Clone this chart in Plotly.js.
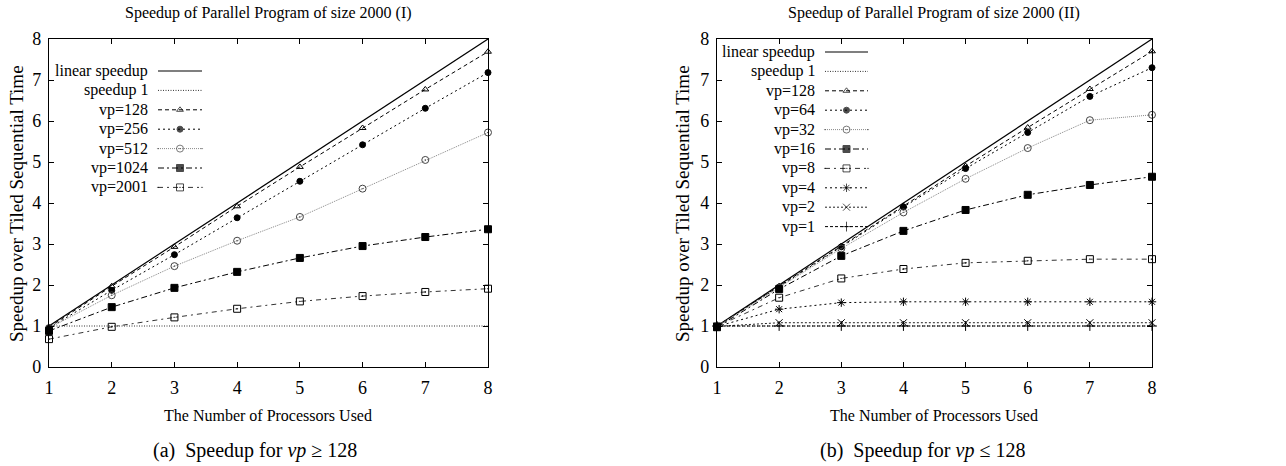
<!DOCTYPE html>
<html><head><meta charset="utf-8">
<script src="https://cdn.plot.ly/plotly-3.0.1.min.js"></script>
<style>html,body{margin:0;padding:0;background:#fff}#plot{width:1286px;height:466px}</style>
</head><body><div id="plot"></div>
<script>
// ---------- data ----------
const procs = [1, 2, 3, 4, 5, 6, 7, 8];
const linearSpeedup = [1, 2, 3, 4, 5, 6, 7, 8];
const speedupOne = [1, 1, 1, 1, 1, 1, 1, 1];

// Panel (a): vp >= 128
const a_vp128  = [0.97, 1.97, 2.93, 3.92, 4.88, 5.83, 6.77, 7.69];
const a_vp256  = [0.95, 1.87, 2.74, 3.64, 4.53, 5.42, 6.31, 7.18];
const a_vp512  = [0.95, 1.75, 2.46, 3.08, 3.66, 4.35, 5.05, 5.72];
const a_vp1024 = [0.88, 1.46, 1.93, 2.32, 2.66, 2.95, 3.17, 3.36];
const a_vp2001 = [0.68, 0.98, 1.21, 1.42, 1.60, 1.73, 1.83, 1.91];

// Panel (b): vp <= 128
const b_vp128 = [1.00, 1.97, 2.95, 3.93, 4.90, 5.84, 6.78, 7.70];
const b_vp64  = [0.99, 1.95, 2.93, 3.90, 4.84, 5.72, 6.60, 7.30];
const b_vp32  = [0.99, 1.93, 2.89, 3.77, 4.59, 5.34, 6.02, 6.15];
const b_vp16  = [0.97, 1.90, 2.71, 3.32, 3.83, 4.20, 4.44, 4.64];
const b_vp8   = [0.99, 1.69, 2.16, 2.39, 2.54, 2.59, 2.63, 2.63];
const b_vp4   = [0.99, 1.41, 1.57, 1.59, 1.59, 1.59, 1.59, 1.59];
const b_vp2   = [0.99, 1.08, 1.08, 1.08, 1.08, 1.08, 1.08, 1.08];
const b_vp1   = [1.00, 1.00, 1.00, 1.00, 1.00, 1.00, 1.00, 1.00];

const namesA = ["linear speedup", "speedup 1", "vp=128", "vp=256", "vp=512", "vp=1024", "vp=2001"];
const namesB = ["linear speedup", "speedup 1", "vp=128", "vp=64", "vp=32", "vp=16", "vp=8", "vp=4", "vp=2", "vp=1"];

const titleA = "Speedup of Parallel Program of size 2000 (I)";
const titleB = "Speedup of Parallel Program of size 2000 (II)";
const xTitle = "The Number of Processors Used";
const yTitle = "Speedup over Tiled Sequential Time";
const captionA = "(a)  Speedup for <i>vp</i> \u2265 128";
const captionB = "(b)  Speedup for <i>vp</i> \u2264 128";

// ---------- styles ----------
const FONT = '"Liberation Serif", "Times New Roman", serif';
const W = 1286, H = 466;
const stylesA = [
  {dash: "solid", color: "#000", symbol: null, width: 1.2},
  {dash: "1px,1.5px", color: "#333", symbol: null, width: 1},
  {dash: "4px,3px", color: "#000", symbol: "triangle-up-open", size: 6, width: 1},
  {dash: "2px,3px", color: "#000", symbol: "circle", size: 6, width: 1},
  {dash: "1px,1px", color: "#888", symbol: "circle-open-dot", size: 7, width: 1, mcolor: "#444"},
  {dash: "6px,3px,2px,3px", color: "#000", symbol: "square", size: 7, width: 1},
  {dash: "5px,4px,2px,4px", color: "#333", symbol: "square-open-dot", size: 7, width: 1},
];
const stylesB = [
  {dash: "solid", color: "#000", symbol: null, width: 1.2},
  {dash: "1px,1.5px", color: "#333", symbol: null, width: 1},
  {dash: "4px,3px", color: "#000", symbol: "triangle-up-open", size: 6, width: 1},
  {dash: "2px,3px", color: "#000", symbol: "circle", size: 6, width: 1},
  {dash: "1px,1px", color: "#888", symbol: "circle-open-dot", size: 7, width: 1, mcolor: "#444"},
  {dash: "6px,3px,2px,3px", color: "#000", symbol: "square", size: 7, width: 1},
  {dash: "5px,4px,2px,4px", color: "#333", symbol: "square-open-dot", size: 7, width: 1},
  {dash: "2px,3px", color: "#000", symbol: "asterisk-open", size: 7, width: 1},
  {dash: "2px,2px", color: "#222", symbol: "x-thin-open", size: 7, width: 1},
  {dash: "3px,2px", color: "#000", symbol: "cross-thin-open", size: 7, width: 1},
];
const seriesA = [linearSpeedup, speedupOne, a_vp128, a_vp256, a_vp512, a_vp1024, a_vp2001];
const seriesB = [linearSpeedup, speedupOne, b_vp128, b_vp64, b_vp32, b_vp16, b_vp8, b_vp4, b_vp2, b_vp1];

const traces = [];
function makeTrace(xs, ys, xa, ya, s, sizes) {
  const t = {
    x: xs, y: ys, xaxis: xa, yaxis: ya, type: "scatter",
    mode: s.symbol ? "lines+markers" : "lines",
    line: {color: s.color, width: s.width, dash: s.dash},
    showlegend: false, hoverinfo: "skip", cliponaxis: false
  };
  if (s.symbol) {
    t.marker = {symbol: s.symbol, size: sizes || s.size, color: s.mcolor || "#000",
                line: {color: s.mcolor || "#000", width: 1}};
  }
  return t;
}
function addSeries(series, styles, xa, ya) {
  series.forEach((ys, i) => traces.push(makeTrace(procs, ys, xa, ya, styles[i])));
}
addSeries(seriesB, stylesB, "x2", "y2");
addSeries(seriesA, stylesA, "x", "y");

// ---------- hand-built gnuplot-style keys (text left, sample right) ----------
const annotations = [];
function addKey(names, styles, textRight, x0, x1, top, rowH) {
  names.forEach((nm, i) => {
    const yy = top + i * rowH;
    annotations.push({text: nm, xref: "paper", yref: "paper", x: textRight / W, y: 1 - yy / H,
      xanchor: "right", yanchor: "middle", showarrow: false, font: {family: FONT, size: 16, color: "#000"}});
    const s = styles[i];
    const xm = (x0 + x1) / 2;
    traces.push(makeTrace([x0, xm, x1], [yy, yy, yy], "x3", "y3", s, s.symbol ? [0, s.size, 0] : null));
  });
}
addKey(namesA, stylesA, 150, 158, 202, 71, 19.4);
addKey(namesB, stylesB, 817, 825, 868, 52, 19.4);

// ---------- titles ----------
function ann(text, xpx, ypx, size, extra) {
  annotations.push(Object.assign({text, xref: "paper", yref: "paper", x: xpx / W, y: 1 - ypx / H,
    xanchor: "center", yanchor: "middle", showarrow: false, font: {family: FONT, size, color: "#000"}}, extra || {}));
}
ann(titleA, 268, 13, 16);
ann(titleB, 934, 13, 16);
ann(xTitle, 268, 415, 16);
ann(xTitle, 934, 415, 16);
ann(yTitle, 17, 204, 19, {textangle: -90});
ann(yTitle, 683, 204, 19, {textangle: -90});
ann(captionA, 255, 450, 20);
ann(captionB, 922, 450, 20);

const axisCommon = {
  range: [1, 8], dtick: 1, tick0: 0, ticks: "inside", ticklen: 5, tickwidth: 1, tickcolor: "#000",
  showline: true, linecolor: "#000", linewidth: 1.2, mirror: "ticks", showgrid: false, zeroline: false,
  tickfont: {family: FONT, size: 18, color: "#000"}, fixedrange: true, ticklabelstandoff: 4
};
const yCommon = Object.assign({}, axisCommon, {range: [0, 8], ticklabelstandoff: 3});
const yDom = [1 - 367 / H, 1 - 39 / H];

const layout = {
  width: W, height: H, margin: {l: 0, r: 0, t: 0, b: 0},
  paper_bgcolor: "#fff", plot_bgcolor: "rgba(0,0,0,0)", showlegend: false,
  xaxis: Object.assign({}, axisCommon, {domain: [49 / W, 488 / W], anchor: "y"}),
  yaxis: Object.assign({}, yCommon, {domain: yDom, anchor: "x"}),
  xaxis2: Object.assign({}, axisCommon, {domain: [717 / W, 1152 / W], anchor: "y2"}),
  yaxis2: Object.assign({}, yCommon, {domain: yDom, anchor: "x2"}),
  xaxis3: {domain: [0, 1], range: [0, W], visible: false, anchor: "y3", fixedrange: true},
  yaxis3: {domain: [0, 1], range: [H, 0], visible: false, anchor: "x3", fixedrange: true},
  annotations
};
Plotly.newPlot("plot", traces, layout, {staticPlot: true, displayModeBar: false});
</script></body></html>
